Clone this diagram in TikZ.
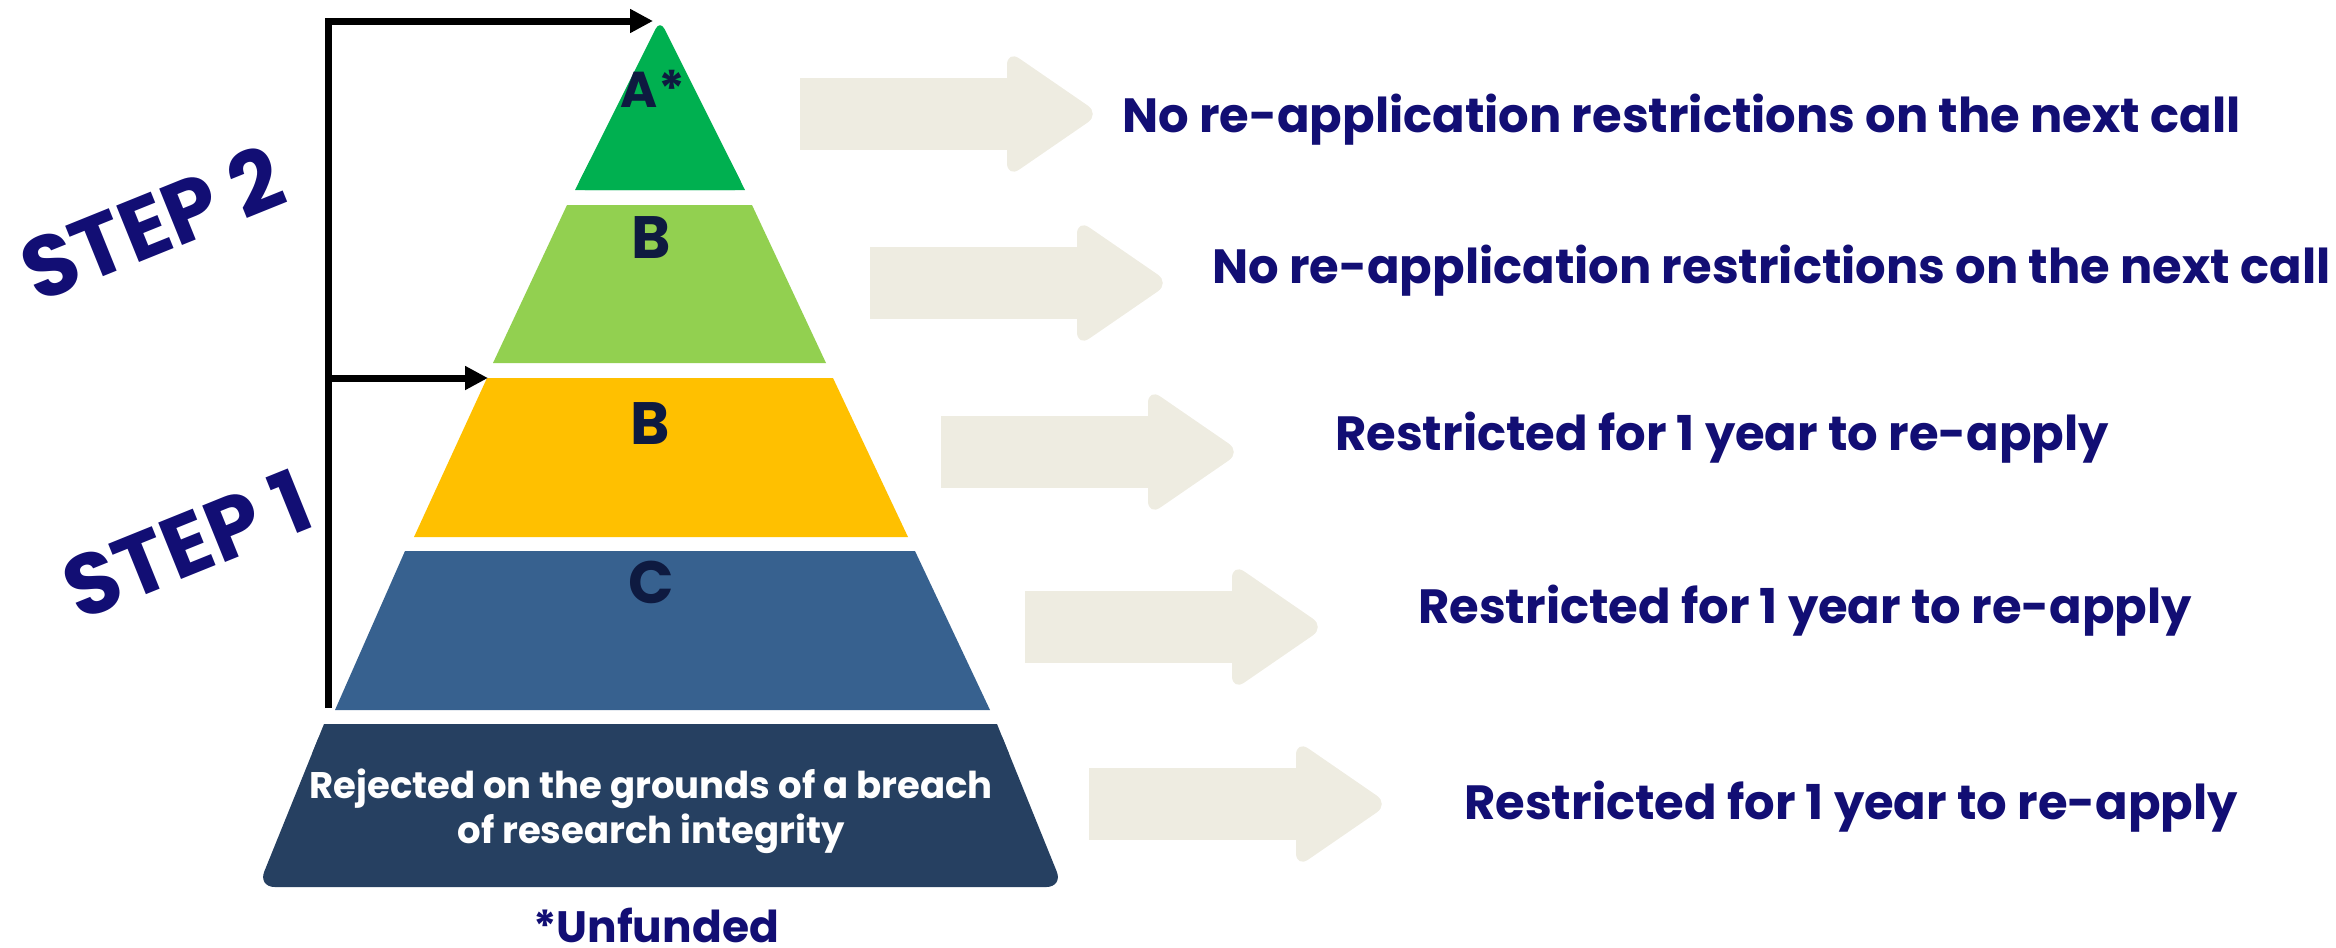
\documentclass[tikz,border=0pt]{standalone}
\usepackage{fontspec}
\newfontfamily\pop{Poppins}
\usetikzlibrary{arrows.meta}
\definecolor{cA}{HTML}{00B050}
\definecolor{cB}{HTML}{92D050}
\definecolor{cY}{HTML}{FFC000}
\definecolor{cC}{HTML}{37618F}
\definecolor{cD}{HTML}{264061}
\definecolor{beige}{HTML}{EEECE1}
\definecolor{navy}{HTML}{120E74}
\definecolor{ink}{HTML}{0E1A40}
\newcommand\blockarrow[2]{%
  \fill[beige] (#1,#2-36) rectangle (#1+215,#2+36);
  \fill[beige, rounded corners=0.45cm] (#1+207,#2) -- (#1+207,#2-64) -- (#1+300,#2) -- (#1+207,#2+64) -- cycle;}
\begin{document}
\begin{tikzpicture}[x=0.03cm,y=-0.03cm,
  lbl/.style={text=navy, font=\pop\bfseries\fontsize{41}{48}\selectfont, inner sep=0pt, anchor=base west},
  grade/.style={text=ink, font=\pop\bfseries\fontsize{51}{60}\selectfont, inner sep=0pt, anchor=base},
  steptxt/.style={text=navy, font=\pop\bfseries\fontsize{74}{80}\selectfont, inner sep=0pt, rotate=22},
  conn/.style={line width=0.21cm, line join=miter, -{Triangle[length=0.69cm,width=0.68cm]}}]
\useasboundingbox (0,0) rectangle (2336,947);
% pyramid layers
\fill[cA, rounded corners=0.3cm] (575,190) -- (660,20) -- (745,190) -- cycle;
\fill[cA] (575,190) -- (745,190) -- (729.8,160) -- (590.2,160) -- cycle;
\fill[cB] (567,205) -- (752,205) -- (826,363) -- (493,363) -- cycle;
\fill[cY] (487,378) -- (833,378) -- (908,537) -- (414,537) -- cycle;
\fill[cC] (405,551) -- (915,551) -- (990,710) -- (335,710) -- cycle;
\fill[cD, rounded corners=0.5cm] (324,724) -- (997,724) -- (1063,887) -- (258,887) -- cycle;
\fill[cD] (324,724) -- (997,724) -- (1009.1,754) -- (311.9,754) -- cycle;
% labels in the pyramid
\node[grade, font=\pop\bfseries\fontsize{43}{50}\selectfont] (la) at (653,107) {A*};
\node[grade] (lb1) at (651,258) {B};
\node[grade] (lb2) at (650,444) {B};
\node[grade] (lc) at (651,603) {C};
\node[text=white, font=\pop\bfseries\fontsize{31.6}{38.4}\selectfont, align=center, anchor=base, inner sep=0pt] (ld) at (651,843) {Rejected on the grounds of a breach\\of research integrity};
\node[text=navy, font=\pop\bfseries\fontsize{37.5}{44}\selectfont, anchor=base, inner sep=0pt] (unf) at (656,942) {*Unfunded};
% step labels
\node[steptxt] (step2) at (152,223) {STEP 2};
\node[steptxt] (step1) at (187,544) {STEP 1};
% connectors
\coordinate (stem) at (328,708);
\coordinate (apexin) at (653,21);
\coordinate (ylw) at (488,378);
\draw[conn] (stem) |- (apexin);
\draw[conn] (stem |- ylw) -- (ylw);
% beige arrows
\blockarrow{800}{114}
\blockarrow{870}{283}
\blockarrow{941}{452}
\blockarrow{1025}{627}
\blockarrow{1089}{804}
% right-hand labels
\node[lbl] (t1) at (1122,132) {No re-application restrictions on the next call};
\node[lbl] (t2) at (1212,283) {No re-application restrictions on the next call};
\node[lbl] (t3) at (1335,450) {Restricted for 1 year to re-apply};
\node[lbl] (t4) at (1418,623) {Restricted for 1 year to re-apply};
\node[lbl] (t5) at (1464,819) {Restricted for 1 year to re-apply};
\end{tikzpicture}
\end{document}
